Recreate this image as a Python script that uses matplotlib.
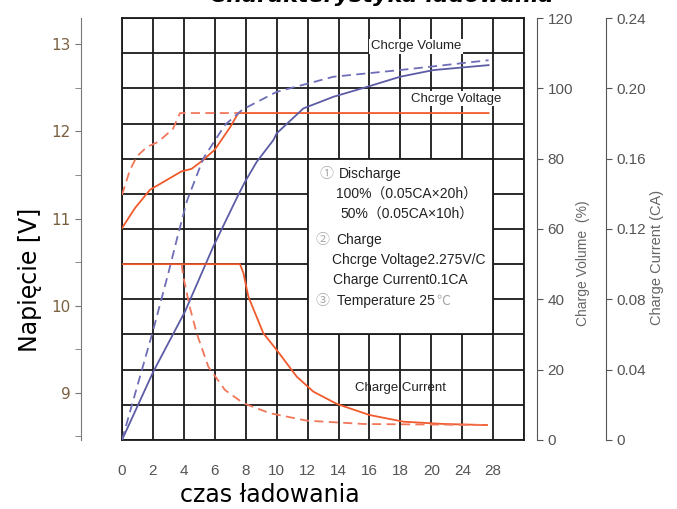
import matplotlib.pyplot as plt
import numpy as np
from matplotlib.patches import Rectangle

# czas ladowania, w jednostkach osi (kolumna siatki = 2)
kolumny = np.arange(0, 27, 2)
etykiety_x = ["0", "2", "4", "6", "8", "10", "12", "14", "16", "18", "20", "24", "28", ""]

# napiecie ladowania [V] - 100% rozladowania (linia ciagla)
t_nap_100 = [0, 0.84, 1.81, 3.84, 4.5, 5.24, 6.0, 7.0, 7.52, 23.7]
nap_100 = [10.89, 11.12, 11.33, 11.54, 11.57, 11.67, 11.79, 12.05, 12.21, 12.21]
# napiecie ladowania [V] - 50% rozladowania (linia przerywana)
t_nap_50 = [0, 0.5, 0.95, 1.6, 2.35, 3.3, 3.75, 7.52]
nap_50 = [11.27, 11.55, 11.71, 11.82, 11.88, 12.03, 12.21, 12.21]

# pojemnosc naladowania [%]
t_poj_100 = [0, 2.02, 4.07, 5.9, 7.52, 7.95, 8.71, 9.79, 10.0, 11.73, 13.67, 15.83, 17.98, 20.14, 23.7]
poj_100 = [0, 19.4, 36.5, 55.0, 69.7, 73.4, 79.1, 85.3, 87.2, 94.3, 97.6, 100.4, 103.3, 105.2, 106.6]
t_poj_50 = [0, 2.02, 3.0, 3.6, 4.2, 5.26, 6.66, 7.8, 10.0, 13.67, 17.98, 23.7]
poj_50 = [0, 31.3, 47.5, 58.0, 68.0, 80.1, 89.6, 94.0, 99.0, 103.3, 105.2, 108.0]

# prad ladowania [CA]
t_prad_100 = [0, 7.63, 7.85, 8.17, 9.14, 10.0, 11.3, 12.37, 13.89, 16.0, 18.2, 20.8, 23.6]
prad_100 = [0.100, 0.100, 0.095, 0.0815, 0.0607, 0.0512, 0.036, 0.0275, 0.0205, 0.0142, 0.0104, 0.0091, 0.0085]
t_prad_50 = [3.86, 3.96, 4.4, 4.83, 5.58, 6.66, 7.85, 9.57, 11.95, 15.6, 23.6]
prad_50 = [0.100, 0.093, 0.075, 0.0607, 0.0417, 0.0284, 0.0209, 0.0152, 0.011, 0.0091, 0.0085]

pomaranczowy = '#f05a2c'
pomaranczowy_jasny = '#f2775a'
niebieski = '#5c5ca6'
niebieski_jasny = '#6e6eb8'
szary = '#555555'
waski = ['Liberation Sans Narrow', 'Liberation Sans']
opis = ['Liberation Sans', 'Noto Sans CJK SC', 'DejaVu Sans']

fig = plt.figure(figsize=(6.77, 5.09), dpi=100)
ax = fig.add_axes([0.1802, 0.1356, 0.594, 0.829])
ax.set_xlim(0, 26)
ax.set_ylim(0, 120)
ax.set_xticks(kolumny)
ax.set_xticklabels(etykiety_x, family=waski, fontsize=11, color=szary)
ax.set_yticks(np.arange(0, 121, 10))
ax.tick_params(axis='x', length=0, pad=17)
ax.tick_params(axis='y', length=0, labelleft=False)
ax.grid(True, color='#1a1a1a', linewidth=1.3)
ax.set_axisbelow(True)
for s in ax.spines.values():
    s.set_color('#1a1a1a')
    s.set_linewidth(1.3)

# ramka z opisem warunkow
ax.add_patch(Rectangle((12, 30), 12, 50, facecolor='white', edgecolor='#1a1a1a', linewidth=1.3, zorder=1))
linie = [
    (12.8, 75.5, "①", '#aaaaaa'), (14.0, 75.5, "Discharge", '#222222'),
    (13.85, 69.8, "100%（0.05CA×20h）", '#222222'),
    (14.1, 64.1, "50%（0.05CA×10h）", '#222222'),
    (12.5, 57.0, "②", '#aaaaaa'), (13.85, 57.0, "Charge", '#222222'),
    (13.6, 51.3, "Chcrge Voltage2.275V/C", '#222222'),
    (13.65, 45.6, "Charge Current0.1CA", '#222222'),
    (12.5, 39.6, "③", '#aaaaaa'), (13.9, 39.6, "Temperature 25", '#222222'),
]
for x, y, t, c in linie:
    ax.text(x, y, t, family=opis, fontsize=10, color=c, va='center', zorder=2)
ax.text(20.3, 39.6, "℃", family=opis, fontsize=10, color='#aaaaaa', va='center', zorder=2)

# os napiecia (lewa)
ax_n = ax.twinx()
ax_n.set_ylim(8.46, 13.30)
ax_n.yaxis.tick_left()
for k in ['top', 'bottom', 'right']:
    ax_n.spines[k].set_visible(False)
ax_n.spines['left'].set_position(('axes', -0.102))
ax_n.spines['left'].set_color('#777777')
ax_n.set_yticks([9, 10, 11, 12, 13])
ax_n.set_yticks(np.arange(8.5, 13.1, 0.5), minor=True)
ax_n.tick_params(axis='y', which='both', direction='out', length=4, color='#777777',
                 labelcolor='#7a6040', labelsize=11)
ax_n.plot(t_nap_100, nap_100, color=pomaranczowy, linewidth=1.3)
ax_n.plot(t_nap_50, nap_50, color=pomaranczowy_jasny, linewidth=1.3, linestyle=(0, (5, 3)))

# os pojemnosci
ax_p = ax.twinx()
ax_p.set_ylim(0, 120)
for k in ['top', 'bottom', 'left']:
    ax_p.spines[k].set_visible(False)
ax_p.spines['right'].set_position(('axes', 1.032))
ax_p.spines['right'].set_color('#555555')
ax_p.set_yticks(np.arange(0, 121, 20))
ax_p.set_yticklabels([str(v) for v in range(0, 121, 20)], family=waski, fontsize=11, color=szary)
ax_p.tick_params(axis='y', direction='out', length=4, color='#555555')
ax_p.plot(t_poj_100, poj_100, color=niebieski, linewidth=1.3)
ax_p.plot(t_poj_50, poj_50, color=niebieski_jasny, linewidth=1.3, linestyle=(0, (5, 3)))

# os pradu
ax_c = ax.twinx()
ax_c.set_ylim(0, 0.24)
for k in ['top', 'bottom', 'left']:
    ax_c.spines[k].set_visible(False)
ax_c.spines['right'].set_position(('axes', 1.204))
ax_c.spines['right'].set_color('#555555')
prad_ticki = [0, 0.04, 0.08, 0.12, 0.16, 0.20, 0.24]
ax_c.set_yticks(prad_ticki)
ax_c.set_yticklabels(["0", "0.04", "0.08", "0.12", "0.16", "0.20", "0.24"], family=waski, fontsize=11, color=szary)
ax_c.tick_params(axis='y', direction='out', length=4, color='#555555')
ax_c.plot(t_prad_100, prad_100, color=pomaranczowy, linewidth=1.3)
ax_c.plot(t_prad_50, prad_50, color=pomaranczowy_jasny, linewidth=1.3, linestyle=(0, (5, 3)))

# podpisy krzywych
ax.text(19.0, 112, "Chcrge Volume", family=opis, fontsize=9.5, color='#222222', ha='center', va='center',
        bbox=dict(facecolor='white', edgecolor='none', pad=1), zorder=3)
ax.text(21.6, 97, "Chcrge Voltage", family=opis, fontsize=9.5, color='#222222', ha='center', va='center',
        bbox=dict(facecolor='white', edgecolor='none', pad=1), zorder=3)
ax.text(18.0, 14.8, "Charge Current", family=opis, fontsize=9.5, color='#222222', ha='center', va='center', zorder=3)

fig.text(583 / 677, 1 - 263 / 509, "Charge Volume  (%)", family=opis, fontsize=10, color='#666666',
         rotation=90, ha='center', va='center')
fig.text(657 / 677, 1 - 257 / 509, "Charge Current (CA)", family=opis, fontsize=10.5, color='#666666',
         rotation=90, ha='center', va='center')
fig.text(30 / 677, 1 - 280 / 509, "Napięcie [V]", fontsize=17, rotation=90, ha='center', va='center')
fig.text(270 / 677, 1 - 495 / 509, "czas ładowania", fontsize=17, ha='center', va='center')
# tytul jest w oryginale przyciety przez gorna krawedz
fig.text(382 / 677, 1 - 2 / 509, "Charakterystyka ładowania", fontsize=16, fontweight='bold',
         fontstyle='italic', ha='center', va='baseline')

fig.savefig('out.png', dpi=100)
